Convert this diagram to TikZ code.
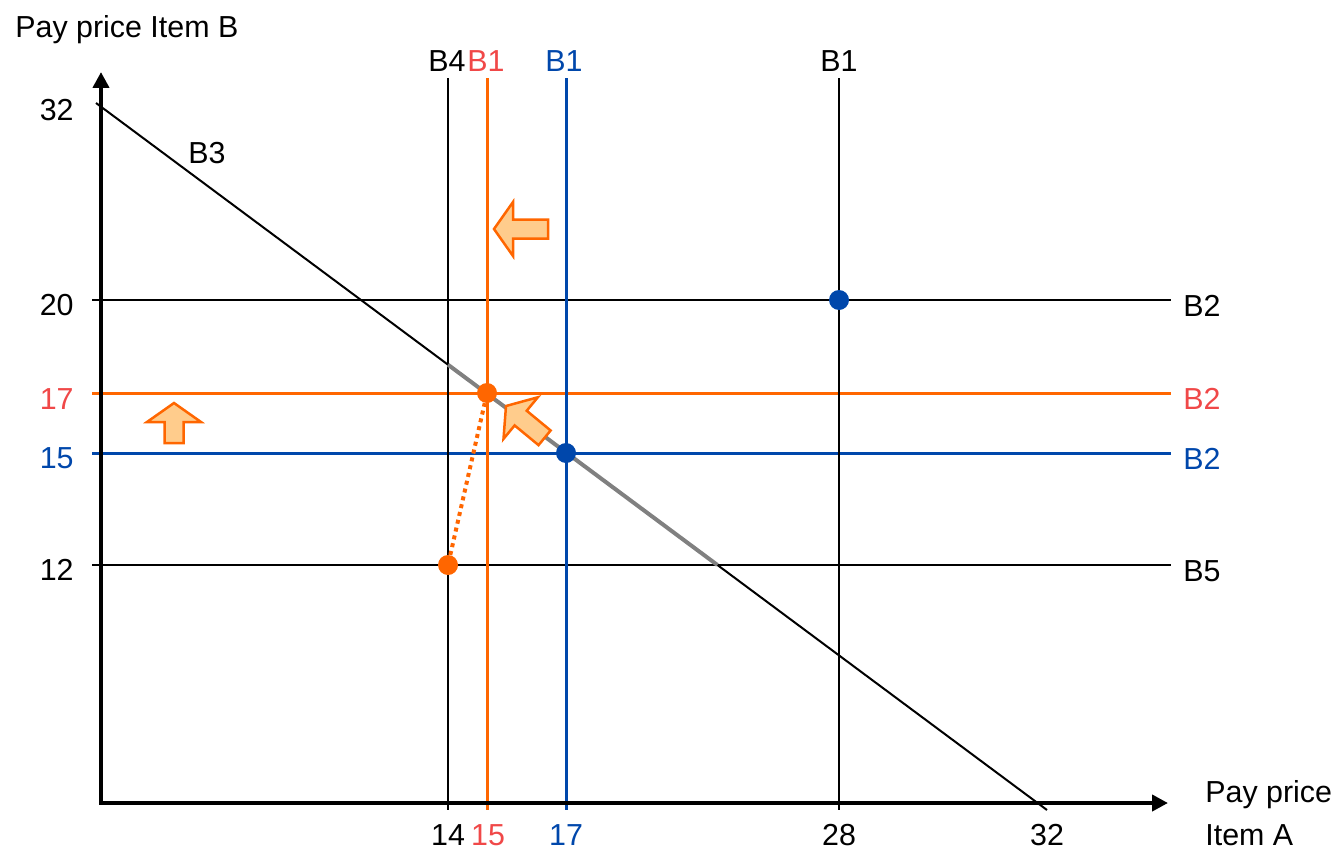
\documentclass[tikz,border=0pt]{standalone}
\usepackage{fontspec}
\setmainfont{Liberation Sans}
\usetikzlibrary{arrows.meta}
\definecolor{lineorange}{RGB}{255,102,0}
\definecolor{lineblue}{RGB}{0,71,171}
\definecolor{labelred}{RGB}{240,72,72}
\definecolor{arrowfill}{RGB}{255,204,140}
\definecolor{segray}{RGB}{128,128,128}
% fat block arrow: tip, angle, length
\newcommand{\blockarrow}[3]{%
  \draw[fatarrow,shift={#1},rotate=#2]
    (0,0) -- (19,27) -- (19,9.5) -- (#3,9.5) -- (#3,-9.5) -- (19,-9.5) -- (19,-27) -- cycle;}

\begin{document}
\begin{tikzpicture}[x=0.02cm,y=-0.02cm,
  grid/.style={line width=0.05cm},
  cgrid/.style={line width=0.06cm},
  axis/.style={line width=0.09cm,line join=miter,{Triangle[length=0.32cm,width=0.32cm]}-{Triangle[length=0.32cm,width=0.32cm]}},
  lab/.style={inner sep=0pt,font=\fontsize{17.3}{24.4}\selectfont},
  dot/.style={circle,inner sep=0pt,minimum size=0.4cm},
  fatarrow/.style={draw=lineorange,line width=0.05cm,fill=arrowfill,line join=miter}]
  \useasboundingbox (0,0) rectangle (1334,852);

  % horizontal lines
  \draw[grid] (92,300) -- (1171,300);
  \draw[grid] (92,565) -- (1171,565);
  \draw[cgrid,lineorange] (92,393) -- (1171,393);
  \draw[cgrid,lineblue] (92,453) -- (1171,453);

  % vertical lines
  \draw[grid] (448,78) -- (448,810);
  \draw[grid] (839,78) -- (839,810);
  \draw[cgrid,lineorange] (487,78) -- (487,810);
  \draw[cgrid,lineblue] (566,78) -- (566,810);

  % diagonal B3 and its grey part
  \coordinate (d1) at (96,103);
  \coordinate (d2) at (1047,810);
  \draw[line width=0.04cm] (d1) -- (d2);
  \draw[segray,line width=0.08cm] (448,364.7) -- (717.4,565);

  % axes
  \coordinate (O) at (101,803);
  \draw[axis] (101,72) -- (O) -- (1168,803);

  % points
  \node[dot,fill=lineorange] (hi) at (487,393) {};
  \node[dot,fill=lineorange] (lo) at (448,565) {};
  \node[dot,fill=lineblue] (mid) at (566,453) {};
  \node[dot,fill=lineblue] (top) at (839,300) {};
  \draw[lineorange,line width=0.08cm,dash pattern=on 0.08cm off 0.08cm] (lo) -- (hi);

  % block arrows
  \blockarrow{(494,229)}{0}{54}
  \blockarrow{(174,403)}{-90}{40}
  \blockarrow{(506,406)}{-39.5}{50}

  % axis titles
  \node[lab,anchor=base west] (ytitle) at (15,37) {Pay price Item B};
  \node[lab,anchor=north west,align=left] (xtitle) at (1205,780) {Pay price\\Item A};

  % y tick labels
  \node[lab,anchor=east] (y32) at (74,110) {32};
  \node[lab,anchor=east] (y20) at (74,305) {20};
  \node[lab,anchor=east,text=labelred] (y17) at (74,399) {17};
  \node[lab,anchor=east,text=lineblue] (y15) at (74,458) {15};
  \node[lab,anchor=east] (y12) at (74,570) {12};

  % x tick labels
  \node[lab] (x14) at (448,835) {14};
  \node[lab,text=labelred] (x15) at (488,835) {15};
  \node[lab,text=lineblue] (x17) at (566,835) {17};
  \node[lab] (x28) at (839,835) {28};
  \node[lab] (x32) at (1047,835) {32};

  % line names on top
  \node[lab] (b4) at (447,61) {B4};
  \node[lab,text=labelred] (b1r) at (486,61) {B1};
  \node[lab,text=lineblue] (b1b) at (564,61) {B1};
  \node[lab] (b1k) at (839,61) {B1};

  % line names on the right
  \node[lab,anchor=west] (b2k) at (1183,306) {B2};
  \node[lab,anchor=west,text=labelred] (b2r) at (1183,399) {B2};
  \node[lab,anchor=west,text=lineblue] (b2b) at (1183,459) {B2};
  \node[lab,anchor=west] (b5) at (1183,571) {B5};
  \node[lab] (b3) at (207,153) {B3};
\end{tikzpicture}
\end{document}
